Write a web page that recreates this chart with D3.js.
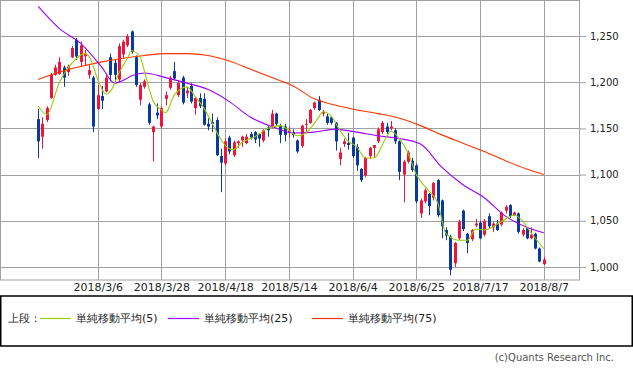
<!DOCTYPE html>
<html>
<head>
<meta charset="utf-8">
<script src="https://cdn.jsdelivr.net/npm/d3@7"></script>
<style>
  body { margin: 0; background: #fff; }
  text { font-family: "DejaVu Sans", sans-serif; }
</style>
</head>
<body>
<div id="chart"></div>
<script>
// daily candles, oldest first (last one is 2018/8/7)
const opens  = [1160,1141,1159,1183,1208,1209,1216,1211,1227,1246,1222,1228,1208,1205,1171,1185,1190,1227,1221,1203,
                1230,1240,1255,1227,1181,1195,1176,1146,1167,1152,1182,1194,1212,1186,1205,1188,1196,1172,1183,1182,
                1155,1157,1159,1120,1112,1140,1121,1134,1137,1134,1144,1146,1144,1137,1151,1152,1166,1153,1152,1146,
                1146,1137,1131,1154,1156,1172,1181,1166,1163,1162,1156,1117,1133,1134,1140,1130,1106,1099,1120,1129,
                1136,1146,1152,1150,1148,1136,1100,1114,1115,1110,1058,1071,1079,1075,1094,1072,1040,1033,1004,1031,
                1061,1036,1030,1045,1048,1035,1055,1043,1047,1046,1061,1067,1056,1058,1035,1042,1031,1036,1020,1003];
const highs  = [1171,1162,1174,1210,1219,1227,1218,1219,1239,1248,1244,1235,1219,1207,1197,1196,1208,1231,1224,1242,
                1246,1252,1256,1229,1199,1203,1178,1153,1177,1174,1190,1207,1222,1202,1207,1195,1199,1184,1188,1188,
                1161,1166,1162,1128,1139,1142,1137,1137,1142,1144,1146,1147,1145,1149,1153,1170,1167,1155,1155,1152,
                1149,1138,1154,1160,1171,1179,1185,1170,1166,1163,1157,1129,1139,1145,1141,1133,1107,1119,1130,1132,
                1151,1158,1156,1158,1150,1137,1116,1126,1118,1112,1074,1085,1080,1092,1095,1073,1043,1035,1027,1051,
                1062,1037,1041,1052,1050,1052,1058,1049,1051,1060,1067,1068,1060,1059,1042,1043,1043,1037,1021,1011];
const lows   = [1118,1128,1157,1182,1207,1208,1195,1207,1226,1224,1217,1218,1204,1146,1170,1171,1189,1201,1200,1200,
                1225,1238,1231,1195,1175,1193,1154,1114,1160,1150,1175,1192,1202,1184,1176,1183,1177,1165,1172,1153,
                1148,1146,1120,1081,1110,1122,1119,1129,1130,1133,1138,1134,1130,1135,1141,1150,1153,1134,1136,1140,
                1140,1123,1129,1145,1155,1170,1169,1163,1154,1154,1126,1110,1130,1127,1118,1104,1092,1097,1117,1119,
                1134,1144,1144,1148,1133,1094,1070,1112,1103,1069,1053,1069,1056,1072,1054,1031,1029, 991,1000,1029,
                1039,1015,1028,1043,1030,1033,1042,1038,1039,1044,1058,1053,1055,1036,1033,1030,1030,1019,1005,1002];
const closes = [1136,1155,1172,1208,1216,1222,1205,1217,1237,1228,1240,1231,1213,1152,1186,1180,1205,1208,1208,1239,
                1244,1250,1233,1197,1197,1201,1156,1152,1164,1172,1186,1205,1204,1199,1178,1191,1179,1183,1174,1154,
                1152,1155,1121,1113,1136,1125,1135,1136,1141,1141,1140,1138,1139,1148,1148,1166,1155,1143,1143,1148,
                1143,1125,1153,1155,1170,1178,1170,1168,1156,1156,1136,1124,1136,1132,1120,1110,1094,1118,1129,1132,
                1149,1156,1146,1152,1136,1103,1114,1124,1105,1071,1072,1083,1066,1091,1056,1044,1034, 997,1026,1049,
                1041,1026,1040,1047,1031,1050,1044,1047,1040,1059,1065,1055,1059,1038,1040,1031,1035,1020,1006,1008];

// moving averages: [candle index, value]
const ma5  = [[0,1174],[2,1165],[5,1200],[8,1221],[11,1231],[12,1228],[14,1203],[16,1187],[17,1190],[19,1210],
              [21,1226],[22,1234],[24,1227],[25,1212],[27,1180],[29,1170],[30,1167],[32,1186],[35,1195],[37,1184],
              [39,1172],[40,1164],[41,1155],[43,1138],[45,1128],[46,1127],[48,1135],[51,1141],[54,1150],[57,1153],
              [59,1148],[61,1142],[63,1145],[66,1162],[67,1168],[69,1163],[71,1148],[73,1136],[75,1130],[77,1118],
              [79,1118],[82,1141],[83,1147],[85,1139],[87,1124],[89,1100],[92,1082],[94,1070],[96,1036],[99,1029],
              [101,1029],[103,1041],[105,1040],[109,1049],[112,1056],[114,1050],[116,1037],[119,1020]];
const ma25 = [[0,1282],[5,1258],[10,1242],[15,1216],[18,1199],[20,1202],[22,1207],[25,1210],[30,1205],[35,1199],
              [40,1192],[45,1179],[50,1162],[55,1152],[60,1145],[65,1146],[70,1149],[75,1146],[80,1142],[85,1139],
              [90,1133],[95,1108],[100,1089],[105,1075],[110,1055],[115,1043],[119,1037]];
const ma75 = [[0,1203],[5,1211],[10,1217],[15,1222],[20,1226],[25,1229],[30,1231],[35,1231],[40,1229],[45,1223],
              [50,1214],[55,1205],[60,1196],[65,1182],[70,1175],[75,1170],[80,1166],[85,1161],[90,1153],[95,1143],
              [100,1134],[105,1125],[110,1115],[115,1106],[119,1100]];

const dateTicks  = [14, 29, 44, 59, 74, 89, 104, 119];
const dateLabels = ["2018/3/6","2018/3/28","2018/4/18","2018/5/14","2018/6/4","2018/6/25","2018/7/17","2018/8/7"];
const priceTicks = [1000, 1050, 1100, 1150, 1200, 1250];

const legendNames = ["単純移動平均(5)", "単純移動平均(25)", "単純移動平均(75)"];

const width = 633, height = 370;
const plotW = 579, plotH = 280;
const upColor = "#f0143c", downColor = "#0a3aa0";
const maColors = ["#99cc00", "#9900ff", "#ff3300"];

const svg = d3.select("#chart").append("svg")
  .attr("width", width)
  .attr("height", height);

const x = d3.scaleLinear().domain([-9, 127.3]).range([0, plotW]);
const y = d3.scaleLinear().domain([985.9, 1289]).range([plotH, 0]);

// grid
const grid = svg.append("g").attr("stroke", "#a0a0a0").attr("stroke-width", 1);
grid.selectAll(".h").data(priceTicks).join("line")
  .attr("x1", 0).attr("x2", plotW)
  .attr("y1", d => Math.round(y(d)) + 0.5).attr("y2", d => Math.round(y(d)) + 0.5);
grid.selectAll(".v").data(dateTicks).join("line")
  .attr("y1", 0).attr("y2", plotH)
  .attr("x1", d => Math.round(x(d)) + 0.5).attr("x2", d => Math.round(x(d)) + 0.5);
svg.append("rect")
  .attr("x", 0.5).attr("y", 0.5).attr("width", plotW).attr("height", plotH - 0.5)
  .attr("fill", "none").attr("stroke", "#a0a0a0");

// candles
const idx = d3.range(opens.length);
const candles = svg.append("g");
candles.selectAll("line").data(idx).join("line")
  .attr("x1", i => Math.round(x(i)) + 0.5).attr("x2", i => Math.round(x(i)) + 0.5)
  .attr("y1", i => y(highs[i])).attr("y2", i => y(lows[i]))
  .attr("stroke", i => closes[i] >= opens[i] ? upColor : downColor);
candles.selectAll("rect").data(idx).join("rect")
  .attr("x", i => Math.round(x(i)) - 1)
  .attr("width", 3)
  .attr("y", i => y(Math.max(opens[i], closes[i])))
  .attr("height", i => Math.max(1, Math.abs(y(opens[i]) - y(closes[i]))))
  .attr("fill", i => closes[i] >= opens[i] ? upColor : downColor);

// moving averages
const line = d3.line().x(d => x(d[0])).y(d => y(d[1])).curve(d3.curveMonotoneX);
[ma75, ma25, ma5].forEach((s, k) => {
  svg.append("path")
    .datum(s)
    .attr("d", line)
    .attr("fill", "none")
    .attr("stroke", maColors[2 - k])
    .attr("stroke-width", 1.1);
});

// price axis on the right
const yAxis = svg.append("g")
  .attr("transform", `translate(${plotW},0)`)
  .call(d3.axisRight(y).tickValues(priceTicks).tickFormat(d3.format(",")).tickSize(7).tickPadding(4));
yAxis.select(".domain").remove();
yAxis.selectAll(".tick line").attr("stroke", "#a0a0a0");
yAxis.selectAll("text").attr("font-size", 10).attr("fill", "#222").attr("font-family", "DejaVu Sans");

// date axis
const xAxis = svg.append("g")
  .attr("transform", `translate(0,${plotH})`)
  .call(d3.axisBottom(x).tickValues(dateTicks).tickFormat((d, i) => dateLabels[i]).tickSize(0).tickPadding(3));
xAxis.select(".domain").remove();
xAxis.selectAll("text").attr("font-size", 11).attr("fill", "#222").attr("font-family", "DejaVu Sans");

// legend box
svg.append("rect")
  .attr("x", 0.75).attr("y", 296).attr("width", 631.5).attr("height", 50)
  .attr("fill", "none").attr("stroke", "#000").attr("stroke-width", 1.5);
const lg = svg.append("g").attr("font-family", "Noto Sans CJK JP").attr("font-size", 11).attr("fill", "#222");
lg.append("text").attr("x", 8).attr("y", 318).attr("dy", "0.35em").text("上段：");
const legX = [40, 168, 312];
legendNames.forEach((name, k) => {
  lg.append("line")
    .attr("x1", legX[k]).attr("x2", legX[k] + 31)
    .attr("y1", 318.5).attr("y2", 318.5)
    .attr("stroke", maColors[k]).attr("stroke-width", 1.2);
  lg.append("text").attr("x", legX[k] + 36).attr("y", 318).attr("dy", "0.35em").text(name);
});

svg.append("text")
  .attr("x", 614).attr("y", 357).attr("dy", "0.35em")
  .attr("text-anchor", "end")
  .attr("font-size", 10).attr("fill", "#555")
  .text("(c)Quants Research Inc.");
</script>
</body>
</html>
